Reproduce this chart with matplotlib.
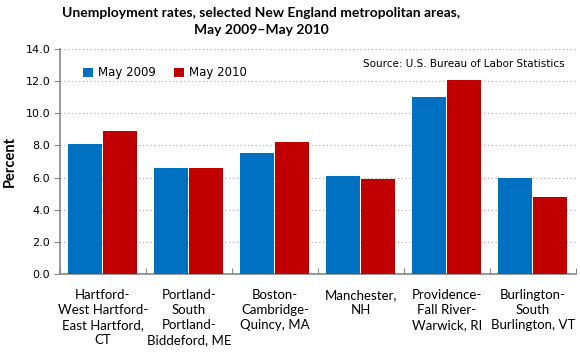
import numpy as np
import matplotlib
matplotlib.use("Agg")
import matplotlib.pyplot as plt

# Data

areas = [
    "Hartford-\nWest Hartford-\nEast Hartford,\nCT",
    "Portland-\nSouth\nPortland-\nBiddeford, ME",
    "Boston-\nCambridge-\nQuincy, MA",
    "Manchester,\nNH",
    "Providence-\nFall River-\nWarwick, RI",
    "Burlington-\nSouth\nBurlington, VT",
]
may_2009 = [8.1, 6.6, 7.5, 6.1, 11.0, 6.0]
may_2010 = [8.9, 6.6, 8.2, 5.9, 12.1, 4.8]
y_ticks = [0, 2, 4, 6, 8, 10, 12, 14]

BLUE = "#0070C0"
RED = "#C00000"
GRAY = "#868686"

fig = plt.figure(figsize=(5.8, 3.6), dpi=100)
ax = fig.add_axes([0.1034, 0.2389, 0.8896, 0.625])

x = np.arange(len(areas))
w = 0.395
ax.bar(x - w / 2 - 0.006, may_2009, w, color=BLUE, label="May 2009", zorder=3)
ax.bar(x + w / 2 + 0.006, may_2010, w, color=RED, label="May 2010", zorder=3)

ax.set_xlim(-0.5, len(areas) - 0.5)
ax.set_ylim(0, 14)
ax.set_yticks(y_ticks)
ax.set_yticklabels([f"{v:.1f}" for v in y_ticks], fontsize=8, family="DejaVu Sans")
ax.yaxis.grid(True, linestyle=(0, (1, 2)), color="#b0b0b0", linewidth=0.9, zorder=0)

# category ticks at group boundaries, labels in centres
ax.set_xticks(np.arange(len(areas) + 1) - 0.5)
ax.set_xticklabels([])
ax.set_xticks(x, minor=True)
ax.set_xticklabels(areas, minor=True, fontsize=9.5, family="Lato", linespacing=1.3)
ax.tick_params(axis="x", which="major", direction="in", length=4, color=GRAY)
ax.tick_params(axis="x", which="minor", length=0, pad=11)
ax.tick_params(axis="y", direction="out", length=4, color=GRAY, pad=3)

for side in ("top", "right"):
    ax.spines[side].set_visible(False)
for side in ("left", "bottom"):
    ax.spines[side].set_color(GRAY)
    ax.spines[side].set_linewidth(1.2)

ax.set_ylabel("Percent", fontsize=10.5, fontweight="bold", family="Lato", labelpad=6)

ax.legend(loc="upper left", bbox_to_anchor=(0.025, 0.97), ncol=2, frameon=False,
          handlelength=0.8, handleheight=0.8, handletextpad=0.4,
          columnspacing=1.6, prop={"family": "DejaVu Sans", "size": 8.5})

ax.text(0.978, 0.935, "Source: U.S. Bureau of Labor Statistics", transform=ax.transAxes,
        ha="right", va="center", fontsize=7.5, family="DejaVu Sans")

fig.text(0.45, 0.98, "Unemployment rates, selected New England metropolitan areas,\nMay 2009\u2013May 2010",
         ha="center", va="top", fontsize=10, fontweight="bold", family="Lato",
         multialignment="center", linespacing=1.5)

fig.savefig("out.png", dpi=100)
